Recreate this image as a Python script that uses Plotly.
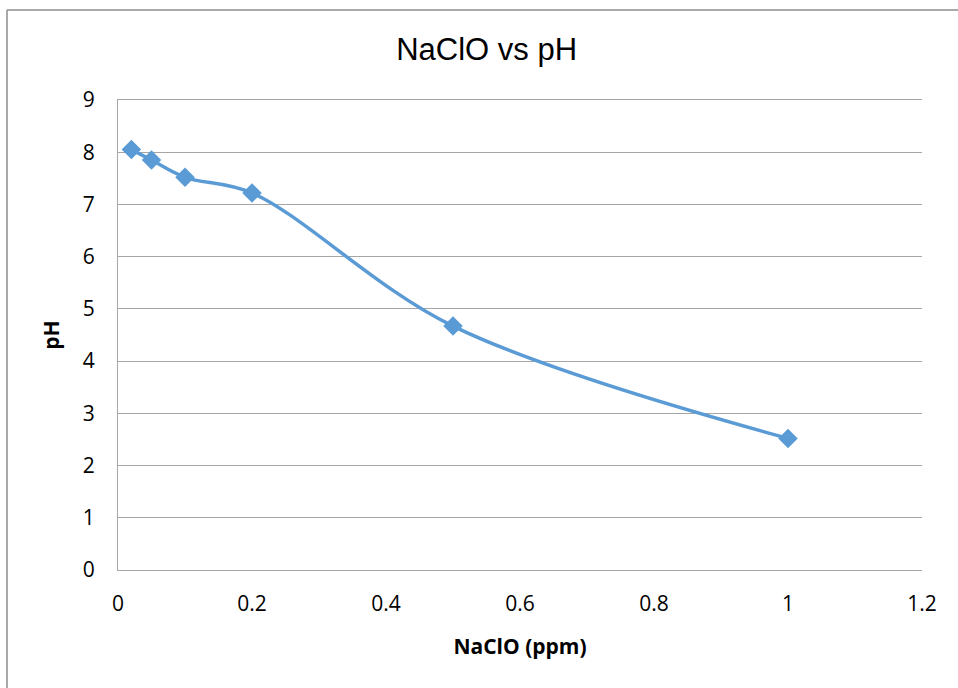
import plotly.graph_objects as go

naclo_ppm = [0.02, 0.05, 0.1, 0.2, 0.5, 1.0]
ph_values = [8.05, 7.85, 7.52, 7.22, 4.67, 2.52]

x_ticks = [0, 0.2, 0.4, 0.6, 0.8, 1.0, 1.2]
x_tick_labels = ["0", "0.2", "0.4", "0.6", "0.8", "1", "1.2"]
y_ticks = list(range(0, 10))

W, H = 958, 688
ML, MR, MT = 118, 36, 100
PLOT_BOTTOM = 570
MB = H - PLOT_BOTTOM
pw, ph = W - ML - MR, H - MT - MB

def px_to_paper_x(px):
    return (px - ML) / pw

def px_to_paper_y(py):
    return (H - MB - py) / ph

blue = "#5b9bd5"
grid = "#a6a6a6"
border = "#8c8c8c"
tick_font = dict(family="Open Sans", size=21, color="#000000")

fig = go.Figure()
fig.add_trace(go.Scatter(
    x=naclo_ppm, y=ph_values,
    mode="lines+markers",
    line=dict(color=blue, width=3.5, shape="spline", smoothing=1),
    marker=dict(symbol="diamond", size=15, color=blue),
    showlegend=False,
))

fig.update_layout(
    width=W, height=H,
    margin=dict(l=ML, r=MR, t=MT, b=MB),
    paper_bgcolor="white", plot_bgcolor="white",
    title=dict(text="NaClO vs pH", x=0.508, xanchor="center", y=1 - 49 / H, yanchor="middle",
               font=dict(family="Liberation Sans", size=31, color="#000000")),
    xaxis=dict(range=[0, 1.2], tickvals=x_ticks, ticktext=x_tick_labels,
               showgrid=False, zeroline=False, showline=True, mirror=True,
               linecolor=grid, linewidth=1.3,
               ticks="", tickfont=tick_font, ticklabelstandoff=15,
               title=dict(text="<b>NaClO (ppm)</b>", standoff=22,
                          font=dict(family="Open Sans", size=21, color="#000000"))),
    yaxis=dict(range=[0, 9], tickvals=y_ticks,
               showgrid=True, gridcolor=grid, gridwidth=1.3, zeroline=False,
               showline=True, linecolor=grid, linewidth=1.3,
               ticks="", tickfont=tick_font, ticklabelstandoff=18,
               title=dict(text="<b>pH</b>", standoff=17,
                          font=dict(family="Open Sans", size=21, color="#000000"))),
    shapes=[
        dict(type="line", xref="paper", yref="paper",
             x0=px_to_paper_x(7), x1=px_to_paper_x(W),
             y0=px_to_paper_y(10), y1=px_to_paper_y(10),
             line=dict(color=border, width=1.5), layer="below"),
        dict(type="line", xref="paper", yref="paper",
             x0=px_to_paper_x(7), x1=px_to_paper_x(7),
             y0=px_to_paper_y(10), y1=px_to_paper_y(H),
             line=dict(color=border, width=1.5), layer="below"),
    ],
)

fig.write_html("out.html", config={"displayModeBar": False})
